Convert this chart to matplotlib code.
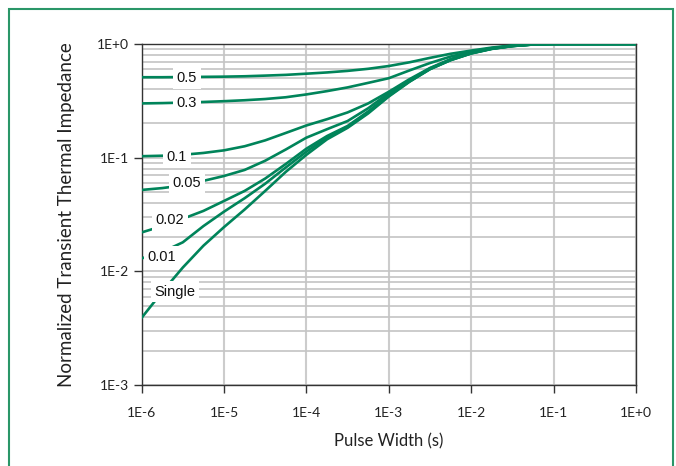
import math
import matplotlib
matplotlib.use("Agg")
import matplotlib.pyplot as plt
from matplotlib.patches import Rectangle
from matplotlib.ticker import FixedLocator, FuncFormatter, LogLocator, NullFormatter

# Pulse width (s), read at quarter decades
pulse_width = [1e-6, 1.78e-6, 3.16e-6, 5.62e-6,
               1e-5, 1.78e-5, 3.16e-5, 5.62e-5,
               1e-4, 1.78e-4, 3.16e-4, 5.62e-4,
               1e-3, 1.78e-3, 3.16e-3, 5.62e-3,
               1e-2, 1.78e-2, 3.16e-2, 5.62e-2,
               1e-1, 3.16e-1, 1.0]

# Normalized transient thermal impedance for each duty cycle
z_05 = [0.51, 0.51, 0.512, 0.514, 0.516, 0.52, 0.527, 0.535, 0.548, 0.562,
        0.58, 0.605, 0.64, 0.69, 0.755, 0.82, 0.875, 0.93, 0.97, 0.995,
        1.0, 1.0, 1.0]
z_03 = [0.30, 0.302, 0.305, 0.309, 0.314, 0.32, 0.328, 0.34, 0.36, 0.385,
        0.415, 0.455, 0.50, 0.585, 0.68, 0.775, 0.855, 0.92, 0.965, 0.993,
        1.0, 1.0, 1.0]
z_01 = [0.103, 0.104, 0.106, 0.11, 0.116, 0.126, 0.142, 0.165, 0.192, 0.218,
        0.25, 0.3, 0.38, 0.49, 0.615, 0.735, 0.84, 0.915, 0.963, 0.992,
        1.0, 1.0, 1.0]
z_005 = [0.052, 0.054, 0.057, 0.0625, 0.069, 0.078, 0.094, 0.118, 0.15, 0.178,
         0.21, 0.272, 0.37, 0.48, 0.61, 0.73, 0.835, 0.912, 0.962, 0.991,
         1.0, 1.0, 1.0]
z_002 = [0.022, 0.025, 0.029, 0.034, 0.0416, 0.051, 0.0655, 0.088, 0.12, 0.155,
         0.19, 0.255, 0.355, 0.47, 0.605, 0.725, 0.83, 0.91, 0.96, 0.99,
         1.0, 1.0, 1.0]
z_001 = [0.013, 0.0148, 0.018, 0.025, 0.0335, 0.044, 0.059, 0.082, 0.113, 0.15,
         0.186, 0.25, 0.35, 0.468, 0.602, 0.722, 0.828, 0.908, 0.959, 0.99,
         1.0, 1.0, 1.0]
z_single = [0.0039, 0.0066, 0.0108, 0.0168, 0.0245, 0.035, 0.051, 0.075, 0.106, 0.145,
            0.183, 0.245, 0.345, 0.465, 0.60, 0.72, 0.825, 0.905, 0.958, 0.99,
            1.0, 1.0, 1.0]

series = [z_05, z_03, z_01, z_005, z_002, z_001, z_single]
labels = ["0.5", "0.3", "0.1", "0.05", "0.02", "0.01", "Single"]
# where each curve label sits (x, y in data units)
label_pos = [(3.56e-6, 0.502), (3.56e-6, 0.303), (2.69e-6, 0.101),
             (3.56e-6, 0.060), (2.21e-6, 0.0283), (1.77e-6, 0.0134),
             (2.54e-6, 0.0066)]

GREEN = "#00845a"

fig = plt.figure(figsize=(6.76, 4.66), dpi=100)
ax = fig.add_axes([0.2095, 0.1738, 0.7313, 0.7318])

for z in series:
    ax.plot(pulse_width, z, color=GREEN, lw=1.9, solid_joinstyle="round", zorder=3)

for txt, (lx, ly) in zip(labels, label_pos):
    ax.text(lx, ly, txt, ha="center", va="center", fontsize=10.5,
            family="Liberation Sans", color="#111111", zorder=5,
            bbox=dict(boxstyle="square,pad=0.25", fc="white", ec="none"))

ax.set_xscale("log")
ax.set_yscale("log")
ax.set_xlim(1e-6, 1.0)
ax.set_ylim(1e-3, 1.0)

dec_x = [1e-6, 1e-5, 1e-4, 1e-3, 1e-2, 1e-1, 1.0]
dec_y = [1e-3, 1e-2, 1e-1, 1.0]
ax.xaxis.set_major_locator(FixedLocator(dec_x))
ax.yaxis.set_major_locator(FixedLocator(dec_y))
ax.xaxis.set_minor_locator(FixedLocator([]))
ax.yaxis.set_minor_locator(LogLocator(base=10, subs=range(2, 10)))
ax.yaxis.set_minor_formatter(NullFormatter())
fmt = FuncFormatter(lambda v, p: "1E%+d" % round(math.log10(v)))
ax.xaxis.set_major_formatter(fmt)
ax.yaxis.set_major_formatter(fmt)

ax.grid(True, axis="x", which="major", color="#cccccc", lw=1.5, zorder=1)
ax.grid(True, axis="y", which="both", color="#c4c4c4", lw=1.2, zorder=1)
ax.set_axisbelow(True)

ax.tick_params(axis="both", which="major", direction="out", length=6, width=1,
               color="#333333", labelsize=10, labelcolor="#222222")
ax.tick_params(axis="x", pad=10)
ax.tick_params(axis="y", pad=3)
ax.tick_params(axis="y", which="minor", length=0)
for lab in ax.get_xticklabels() + ax.get_yticklabels():
    lab.set_family("Lato")

for s in ax.spines.values():
    s.set_color("#333333")
    s.set_linewidth(1.0)

ax.set_xlabel("Pulse Width (s)", fontsize=12, family="Lato", color="#222222", labelpad=10)
ax.set_ylabel("Normalized Transient Thermal Impedance", fontsize=13.5, family="Lato",
              color="#222222", labelpad=16)

# green outer frame
fig.patches.append(Rectangle((9 / 676, -0.05), 664 / 676, 1.05 - 9 / 466,
                             transform=fig.transFigure, fill=False,
                             ec="#2a9668", lw=1.5))

fig.savefig("out.png", dpi=100)
